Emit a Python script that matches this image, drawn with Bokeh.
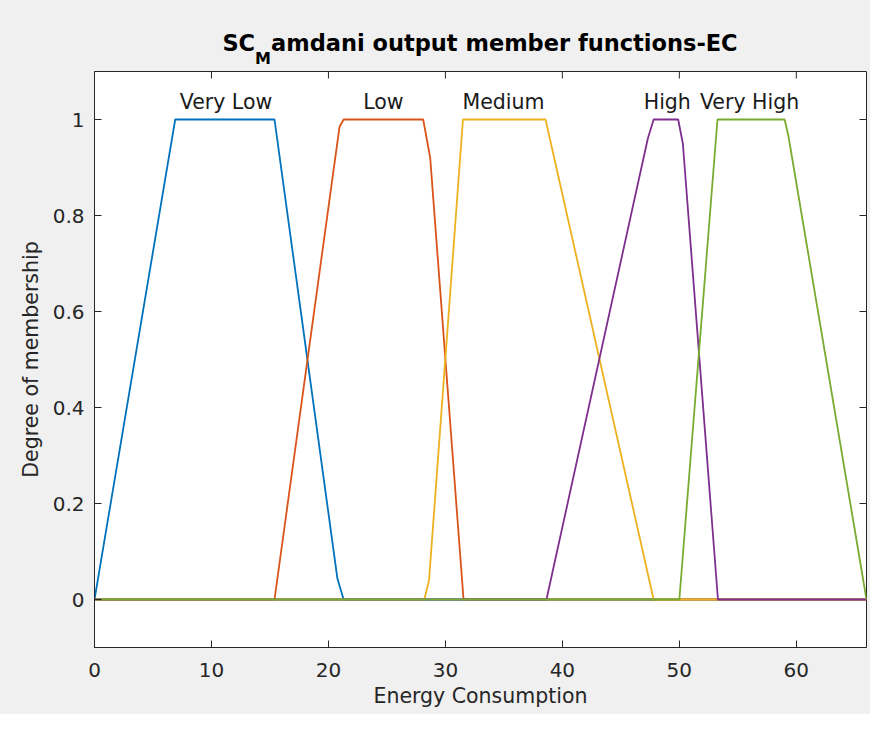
from bokeh.plotting import figure
from bokeh.models import Range1d, FixedTicker, Div
from bokeh.layouts import column
from bokeh.embed import file_html
from bokeh.resources import INLINE
from bokeh.core.properties import value

# ---- data ----
mf_names = ["Very Low", "Low", "Medium", "High", "Very High"]
mf_colors = ["#0072BD", "#D95319", "#EDB120", "#7E2F8E", "#77AC30"]

very_low_x = [0, 6.9, 15.39, 20.77, 21.3, 66]
very_low_y = [0, 1, 1, 0.043, 0, 0]
low_x = [0, 15.39, 20.6, 20.95, 21.3, 28.1, 28.7, 31.55, 66]
low_y = [0, 0, 0.923, 0.985, 1, 1, 0.92, 0, 0]
medium_x = [0, 28.2, 28.6, 31.5, 38.56, 47.8, 66]
medium_y = [0, 0, 0.04, 1, 1, 0, 0]
high_x = [0, 38.64, 47.3, 47.8, 49.9, 50.3, 53.3, 66]
high_y = [0, 0, 0.96, 1, 1, 0.95, 0, 0]
very_high_x = [0, 50.0, 53.26, 59.0, 59.33, 66]
very_high_y = [0, 0, 1, 1, 0.965, 0]

label_x = [11.24, 24.7, 34.97, 48.97, 56.0]
label_y = [1.036, 1.036, 1.036, 1.036, 1.036]

x_ticks = [0, 10, 20, 30, 40, 50, 60]
y_ticks = [0, 0.2, 0.4, 0.6, 0.8, 1]
y_tick_labels = ["0", "0.2", "0.4", "0.6", "0.8", "1"]

title_main = "SC"
title_sub = "M"
title_rest = "amdani output member functions-EC"
x_label = "Energy Consumption"
y_label = "Degree of membership"

series_x = [very_low_x, low_x, medium_x, high_x, very_high_x]
series_y = [very_low_y, low_y, medium_y, high_y, very_high_y]

AX = "#262626"
FONT = "DejaVu Sans"
X0, X1 = 0, 66
Y0, Y1 = -0.1, 1.1
FW, FH = 772, 576
TICK = 7

p = figure(frame_width=FW, frame_height=FH,
           x_range=Range1d(X0, X1), y_range=Range1d(Y0, Y1),
           output_backend="svg", toolbar_location=None,
           min_border_left=94, min_border_right=4,
           min_border_top=4, min_border_bottom=67,
           border_fill_color="#f0f0f0", background_fill_color="white",
           outline_line_color=AX, outline_line_width=1)
p.grid.visible = False

for ax in (p.xaxis[0], p.yaxis[0]):
    ax.major_tick_in = TICK
    ax.major_tick_out = 0
    ax.minor_tick_line_color = None
    ax.axis_line_color = AX
    ax.major_tick_line_color = AX
    ax.major_label_text_font = FONT
    ax.major_label_text_font_size = "20px"
    ax.major_label_text_color = AX
    ax.axis_label_text_font = FONT
    ax.axis_label_text_font_size = "20.5px"
    ax.axis_label_text_font_style = "normal"
    ax.axis_label_text_color = AX

xa = p.xaxis[0]
ya = p.yaxis[0]
xa.ticker = FixedTicker(ticks=x_ticks)
ya.ticker = FixedTicker(ticks=y_ticks)
ya.major_label_overrides = {t: l for t, l in zip(y_ticks, y_tick_labels)}
xa.axis_label = x_label
ya.axis_label = y_label
xa.major_label_standoff = 15
ya.major_label_standoff = 10
xa.axis_label_standoff = 4
ya.axis_label_standoff = 7

# inward ticks on the top and right edges of the box (MATLAB "box on")
ty = (Y1 - Y0) * TICK / FH
tx = (X1 - X0) * TICK / FW
p.segment(x0=x_ticks, y0=[Y1] * len(x_ticks), x1=x_ticks, y1=[Y1 - ty] * len(x_ticks),
          line_color=AX, line_width=1)
p.segment(x0=[X1] * len(y_ticks), y0=y_ticks, x1=[X1 - tx] * len(y_ticks), y1=y_ticks,
          line_color=AX, line_width=1)

for xs, ys, c in zip(series_x, series_y, mf_colors):
    p.line(xs, ys, line_color=c, line_width=1.8)

p.text(x=label_x, y=label_y, text=mf_names, text_align="center",
       text_baseline="alphabetic", text_font=value(FONT),
       text_font_size="20.5px", text_color="#1a1a1a")

title_html = (
    '<div style="margin:0;margin-left:94px;width:772px;text-align:center;'
    'padding-top:30px;font-family:\'DejaVu Sans\';font-weight:bold;font-size:22.5px;'
    'line-height:26px;color:#000;white-space:nowrap">'
    f'{title_main}<span style="font-size:16px;position:relative;top:13px">{title_sub}</span>'
    f'{title_rest}</div>'
)
title_div = Div(text=title_html, width=870, height=67,
                styles={"background-color": "#f0f0f0", "margin": "0", "padding": "0"})

layout = column(title_div, p, spacing=0, styles={"background-color": "#f0f0f0"})

open("out.html", "w").write(file_html(layout, INLINE))
